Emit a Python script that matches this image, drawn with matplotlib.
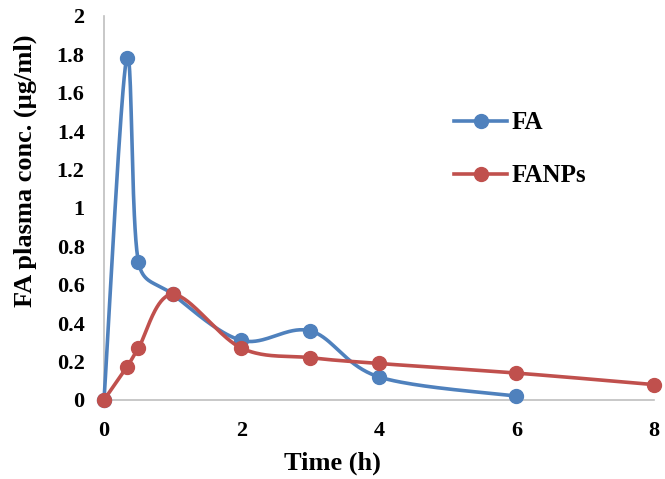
import numpy as np
import matplotlib
matplotlib.use('Agg')
import matplotlib.pyplot as plt

# Data
fa_time = [0, 0.33, 0.5, 1, 2, 3, 4, 6]
fa_conc = [0, 1.78, 0.72, 0.55, 0.31, 0.36, 0.12, 0.02]
fanp_time = [0, 0.33, 0.5, 1, 2, 3, 4, 6, 8]
fanp_conc = [0, 0.17, 0.27, 0.55, 0.27, 0.22, 0.19, 0.14, 0.08]

# pixel per data unit, used so the smoothing behaves like Excel's (screen space)
PX_X = 68.75
PX_Y = 192.0


def smooth(xs, ys, n=40):
    # Excel-like smoothed line: Bezier segments, control points 1/6 of the
    # neighbour chord, capped at half the segment length
    p = np.column_stack([np.array(xs) * PX_X, np.array(ys) * PX_Y])
    pts = np.vstack([p[0], p, p[-1]])
    t = np.linspace(0, 1, n)[:, None]
    out = []
    for i in range(1, len(pts) - 2):
        p0, p1, p2, p3 = pts[i - 1], pts[i], pts[i + 1], pts[i + 2]
        d12 = np.hypot(*(p2 - p1))
        d02 = np.hypot(*(p2 - p0))
        d13 = np.hypot(*(p3 - p1))
        f0 = 1 / 6 if d02 == 0 else min(1 / 6, d12 / (2 * d02))
        f3 = 1 / 6 if d13 == 0 else min(1 / 6, d12 / (2 * d13))
        c1 = p1 + (p2 - p0) * f0
        c2 = p2 - (p3 - p1) * f3
        seg = ((1 - t) ** 3) * p1 + 3 * ((1 - t) ** 2) * t * c1 + 3 * (1 - t) * t ** 2 * c2 + t ** 3 * p2
        out.append(seg)
    seg = np.vstack(out)
    return seg[:, 0] / PX_X, seg[:, 1] / PX_Y


plt.rcParams['font.family'] = 'Liberation Serif'
plt.rcParams['font.weight'] = 'bold'

fig = plt.figure(figsize=(6.65, 4.79), dpi=100)
ax = fig.add_axes([0.1564, 0.165, 0.827, 0.8017])

blue = '#4F81BD'
red = '#C0504D'
lw = 2.6
ms = 10

sx, sy = smooth(fa_time, fa_conc)
ax.plot(sx, sy, color=blue, lw=lw, clip_on=False)
ax.plot(fa_time, fa_conc, 'o', color=blue, ms=ms, clip_on=False)
ax.plot([], [], '-o', color=blue, lw=lw, ms=ms, label='FA')

sx, sy = smooth(fanp_time, fanp_conc)
ax.plot(sx, sy, color=red, lw=lw, clip_on=False)
ax.plot(fanp_time, fanp_conc, 'o', color=red, ms=ms, clip_on=False)
ax.plot([], [], '-o', color=red, lw=lw, ms=ms, label='FANPs')

ax.set_xlim(0, 8)
ax.set_ylim(0, 2)
ax.set_xticks([0, 2, 4, 6, 8])
ax.set_yticks(np.arange(0, 2.01, 0.2))
ax.set_yticklabels(['0', '0.2', '0.4', '0.6', '0.8', '1', '1.2', '1.4', '1.6', '1.8', '2'])
ax.tick_params(axis='x', length=0, labelsize=16, pad=15)
ax.tick_params(axis='y', length=0, labelsize=16, pad=14)
for lab in ax.get_xticklabels() + ax.get_yticklabels():
    lab.set_fontweight('bold')

for s in ['top', 'right']:
    ax.spines[s].set_visible(False)
for s in ['left', 'bottom']:
    ax.spines[s].set_color('#BFBFBF')
    ax.spines[s].set_linewidth(1.2)
    ax.spines[s].set_zorder(0)

ax.set_xlabel('Time (h)', fontsize=19, fontweight='bold')
ax.set_ylabel('FA plasma conc. (µg/ml)', fontsize=19, fontweight='bold')
# Excel centres the titles on the chart area, not the plot area
ax.xaxis.set_label_coords(0.416, -0.135)
ax.yaxis.set_label_coords(-0.122, 0.596)

ax.legend(loc='upper left', bbox_to_anchor=(0.595, 0.81), frameon=False,
          labelspacing=1.2, handlelength=2.15, handletextpad=0.15,
          prop={'weight': 'bold', 'size': 18})

fig.savefig('out.png', dpi=100)
